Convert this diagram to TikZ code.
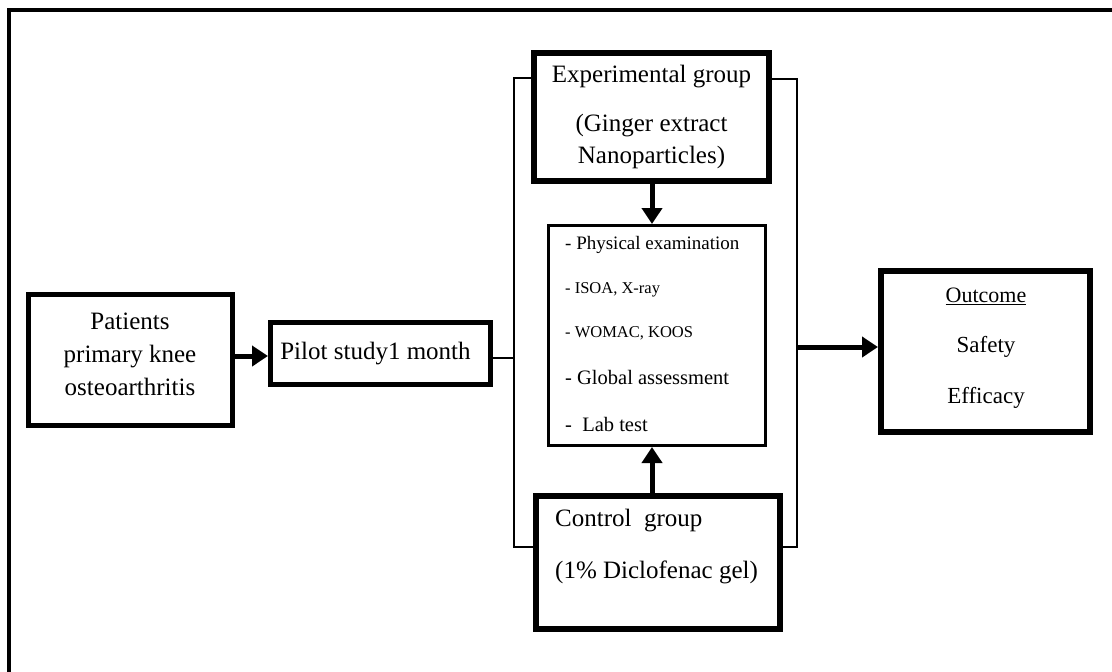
\documentclass[tikz,border=0pt]{standalone}
\usepackage{fontspec}
\setmainfont{Liberation Serif}
\usetikzlibrary{arrows.meta}
\begin{document}
\begin{tikzpicture}[x=1pt,y=-1pt,
  thickbox/.style={draw,line width=6pt,minimum width=#1,inner sep=0pt},
  bigtxt/.style={font=\fontsize{25}{30}\selectfont},
  thinln/.style={line width=1.4pt},
  bigarrow/.style={line width=5pt,-{Triangle[length=16pt,width=20pt]}},
]
\useasboundingbox (0,0) rectangle (1112,672);
% outer frame
\draw[line width=4pt] (9,672) -- (9,10) -- (1112,10);

% boxes
\node[draw,line width=5pt,minimum width=204pt,minimum height=131pt,inner sep=0pt] (pat) at (130,360) {};
\node[bigtxt,align=center,inner sep=0pt] (pt) at (130,354)
  {Patients\\[3pt]primary knee\\[3pt]osteoarthritis};
\node[draw,line width=5pt,minimum width=220pt,minimum height=62pt,inner sep=0pt,
      bigtxt] (pilot) at (380.5,353.5) {Pilot study1 month\hspace*{10pt}};
\node[thickbox=235pt,minimum height=128pt,bigtxt,align=center] (exp) at (651.5,117)
  {Experimental group\\[19pt](Ginger extract\\[2pt]Nanoparticles)};
\node[draw,line width=3pt,minimum width=217pt,minimum height=220pt,inner sep=0pt] (mid) at (657,335.5) {};
\node[thickbox=244pt,minimum height=133pt] (ctrl) at (658,562.5) {};
\node[thickbox=209pt,minimum height=161pt] (out) at (985.5,351.5) {};

% middle list
\node[anchor=west,font=\fontsize{19}{22}\selectfont,inner sep=0pt] (m1) at (565,245) {- Physical examination};
\node[anchor=west,font=\fontsize{16.5}{20}\selectfont,inner sep=0pt] (m2) at (565,290) {- ISOA, X-ray};
\node[anchor=west,font=\fontsize{16.5}{19}\selectfont,inner sep=0pt] (m3) at (565,333) {- WOMAC, KOOS};
\node[anchor=west,font=\fontsize{20.5}{24}\selectfont,inner sep=0pt] (m4) at (565,377) {- Global assessment};
\node[anchor=west,font=\fontsize{20.5}{24}\selectfont,inner sep=0pt] (m5) at (565,424) {-\enspace Lab test};

% control text
\node[anchor=west,bigtxt,inner sep=0pt] (c1) at (555,521) {Control\enspace group};
\node[anchor=west,bigtxt,inner sep=0pt] (c2) at (555,572) {(1\% Diclofenac gel)};

% outcome text
\node[font=\fontsize{22}{26}\selectfont,inner sep=0pt] (o1) at (986,296) {\underline{Outcome}};
\node[font=\fontsize{23}{26}\selectfont,inner sep=0pt] (o2) at (986,347) {Safety};
\node[font=\fontsize{23}{26}\selectfont,inner sep=0pt] (o3) at (986,398) {Efficacy};

% bracket coordinates
\coordinate (lt) at (514,78);
\coordinate (lb) at (514,547);
\coordinate (rt) at (797,79);
\coordinate (rb) at (797,547);
\coordinate (ra) at (797,347);

% brackets
\draw[thinln] (exp.west |- lt) -- (lt) -- (lb) -- (ctrl.west |- lb);
\draw[thinln] (exp.east |- rt) -- (rt) -- (rb) -- (ctrl.east |- rb);
\draw[thinln] (pilot.east |- 0,358) -- (lt |- 0,358);

% arrows
\draw[bigarrow] (pat.east |- 0,356) -- (pilot.west |- 0,356);
\draw[bigarrow] (exp.south -| 652,0) -- (mid.north -| 652,0);
\draw[bigarrow] (ctrl.north -| 652,0) -- (mid.south -| 652,0);
\draw[bigarrow] (ra) -- (ra -| out.west);
\end{tikzpicture}
\end{document}
